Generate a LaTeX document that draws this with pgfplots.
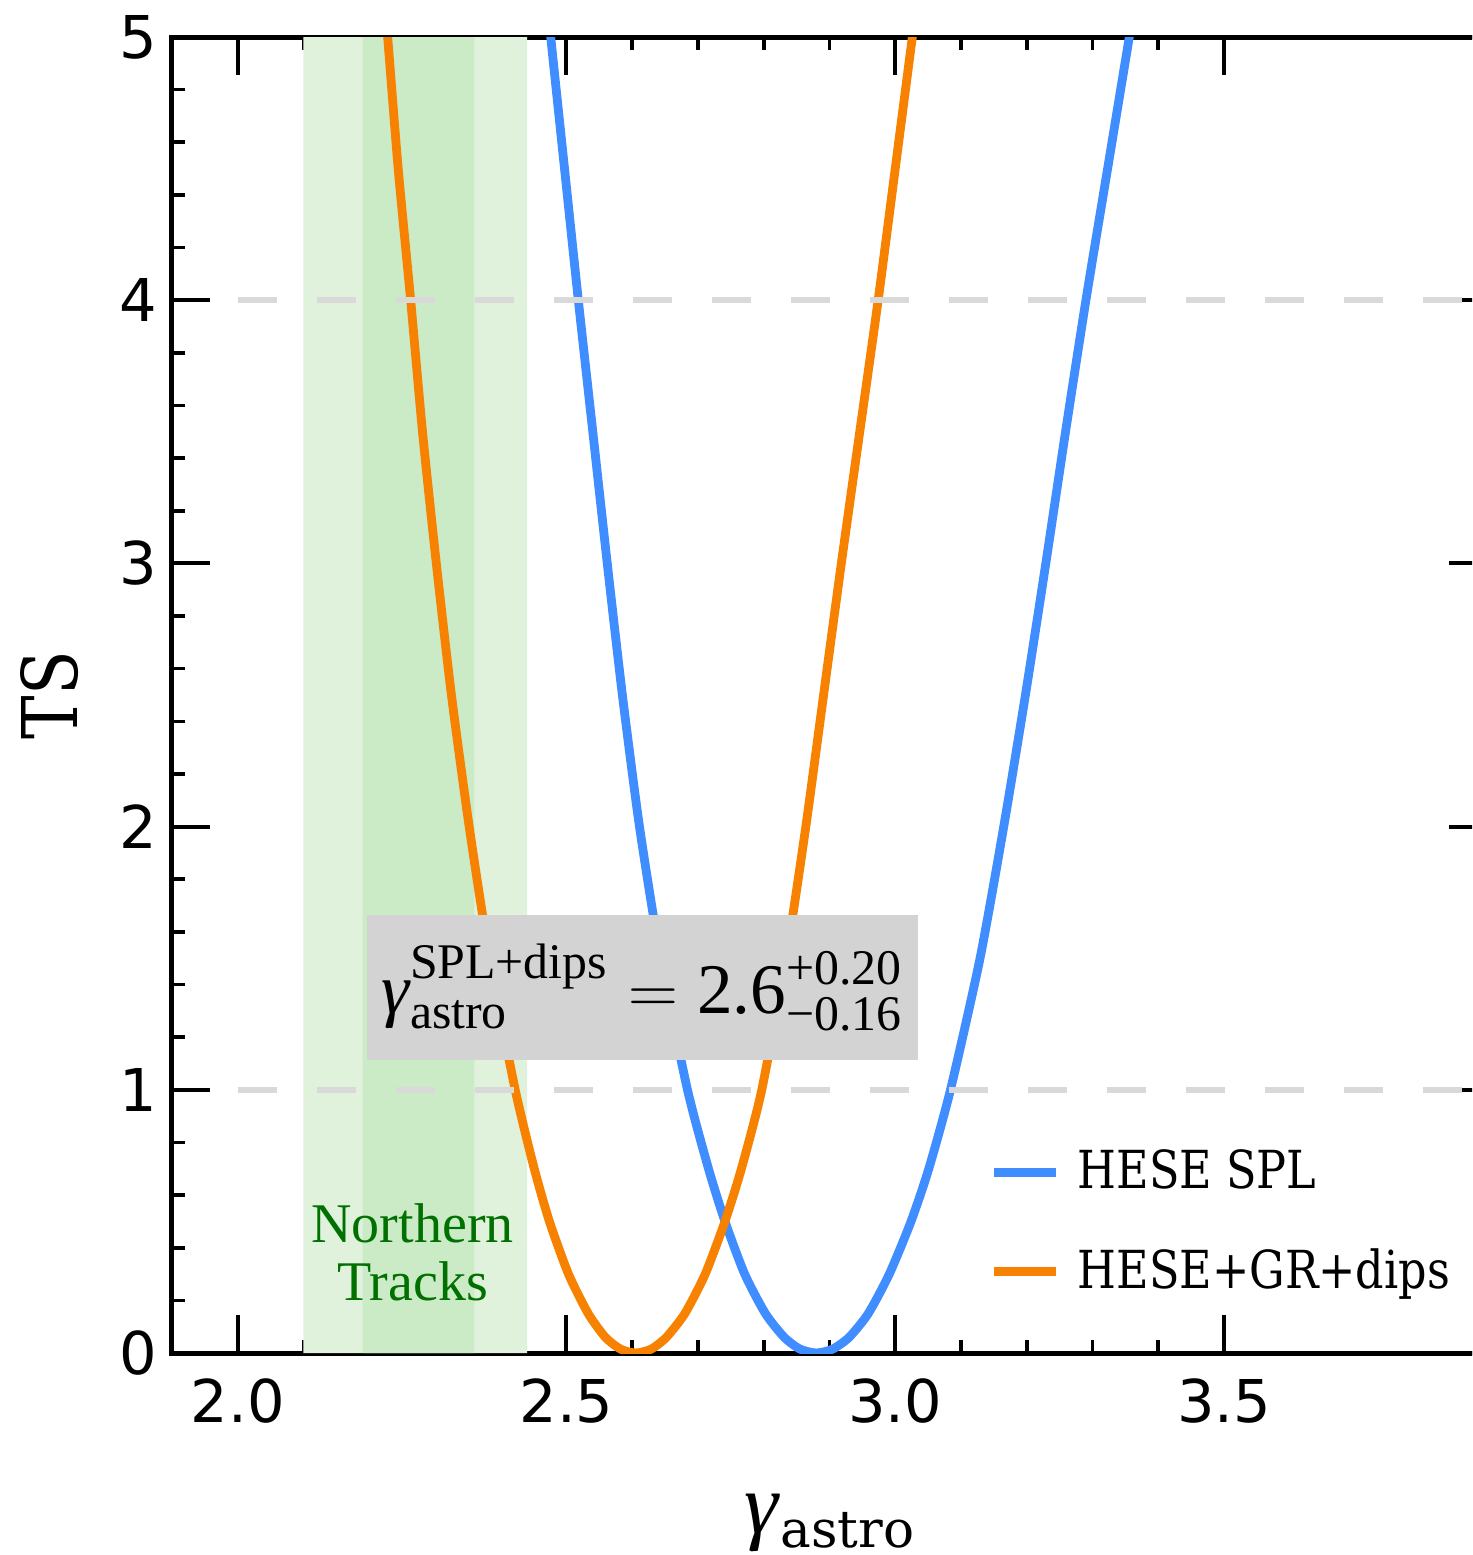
\documentclass[border=0pt]{standalone}
\usepackage{amsmath}
\usepackage{fontspec}
\setmainfont{Liberation Serif}
\newfontfamily\tickfont{DejaVu Sans}
\newfontfamily\dvserif{DejaVu Serif}
\newfontfamily\dvcond[FakeStretch=0.85]{DejaVu Serif}
\usepackage{pgfplots}
\pgfplotsset{compat=1.18}
\definecolor{cblue}{RGB}{64,141,255}
\definecolor{corange}{RGB}{247,129,0}
\definecolor{lgreen}{RGB}{224,242,220}
\definecolor{dgreen}{RGB}{203,234,198}
\definecolor{tgreen}{RGB}{0,112,0}
\definecolor{boxgray}{RGB}{211,211,211}
\definecolor{gridgray}{RGB}{217,217,217}
\begin{document}
\begin{tikzpicture}
\useasboundingbox (-43pt,-50.5pt) rectangle (325pt,338.25pt);
\clip (-43pt,-50.5pt) rectangle (325pt,338.25pt);
\begin{axis}[
  at={(0pt,0pt)}, anchor=south west,
  scale only axis, width=328.75pt, height=329pt,
  xmin=1.9, xmax=3.9, ymin=0, ymax=5,
  xtick={2.0,2.5,3.0,3.5}, ytick={0,1,2,3,4,5},
  minor x tick num=4, minor y tick num=4,
  tick align=inside, tick pos=both, ticklabel pos=left,
  major tick length=9.5pt, minor tick length=3.3pt,
  every major tick/.append style={line width=1pt, black},
  every minor tick/.append style={line width=0.9pt, black},
  axis line style={line width=1.25pt},
  ticklabel style={font=\tickfont\fontsize{14.75}{16}\selectfont, inner sep=0pt},
  /pgf/number format/assume math mode=true,
  xticklabel style={yshift=-6.25pt, /pgf/number format/.cd, fixed, fixed zerofill, precision=1},
  yticklabel style={xshift=-3.5pt},
  xlabel={{\fontsize{21.5}{24}\selectfont\textit{γ}}\raisebox{-3.5pt}{\dvserif\fontsize{12.9}{14}\selectfont astro}},
  xlabel style={at={(axis description cs:0.5,-0.1375)}, anchor=base, inner sep=0pt},
  ylabel={\dvcond\fontsize{19.2}{22}\selectfont TS},
  ylabel style={at={(axis description cs:-0.0715,0.5)}, anchor=base, inner sep=0pt},
  legend style={at={(axis description cs:0.622,0.1545)}, anchor=north west, draw=none, fill=none,
    inner sep=0pt, outer sep=0pt, row sep=13.6pt, column sep=4.25pt,
    font=\dvcond\fontsize{13.1}{14}\selectfont, nodes={inner sep=0pt}},
  legend cell align=left,
  legend image code/.code={\draw[#1] (0pt,0pt) -- (15.5pt,0pt);},
]
% Northern tracks bands
\addplot[draw=none, fill=lgreen, forget plot] coordinates {(2.10,0) (2.44,0) (2.44,5) (2.10,5)} \closedcycle;
\addplot[draw=none, fill=dgreen, forget plot] coordinates {(2.19,0) (2.36,0) (2.36,5) (2.19,5)} \closedcycle;
% HESE SPL
\addplot[cblue, line width=2.2pt, smooth, tension=0.4] coordinates {
(2.464,5.3) (2.476,5.0) (2.497,4.5) (2.518,4.0) (2.540,3.5) (2.562,3.0) (2.585,2.5) (2.611,2.0) (2.643,1.5) (2.684,1.0) (2.716,0.7) (2.741,0.5) (2.771,0.3) (2.8025,0.15) (2.831,0.06) (2.855,0.015) (2.880,0) (2.905,0.015) (2.930,0.06) (2.959,0.15) (2.991,0.3) (3.024,0.5) (3.051,0.7) (3.084,1.0) (3.129,1.5) (3.165,2.0) (3.198,2.5) (3.229,3.0) (3.259,3.5) (3.290,4.0) (3.323,4.5) (3.356,5.0) (3.376,5.3)};
\addlegendentry{HESE SPL}
% HESE+GR+dips
\addplot[corange, line width=2.2pt, smooth, tension=0.4] coordinates {
(2.218,5.3) (2.228,5.0) (2.244,4.5) (2.263,4.0) (2.281,3.5) (2.302,3.0) (2.325,2.5) (2.352,2.0) (2.383,1.5) (2.422,1.0) (2.451,0.7) (2.474,0.5) (2.503,0.3) (2.533,0.15) (2.559,0.06) (2.582,0.015) (2.605,0) (2.629,0.015) (2.652,0.06) (2.680,0.15) (2.711,0.3) (2.741,0.5) (2.766,0.7) (2.797,1.0) (2.834,1.5) (2.864,2.0) (2.891,2.5) (2.918,3.0) (2.946,3.5) (2.974,4.0) (3.000,4.5) (3.026,5.0) (3.042,5.3)};
\addlegendentry{HESE+GR+dips}
% dashed guide lines
\addplot[gridgray, line width=1.5pt, dash pattern=on 9.75pt off 10pt, forget plot] coordinates {(2.0,1) (3.9,1)};
\addplot[gridgray, line width=1.5pt, dash pattern=on 9.75pt off 10pt, forget plot] coordinates {(2.0,4) (3.9,4)};
% annotation box
\node[fill=boxgray, minimum width=137.75pt, minimum height=36.25pt, inner sep=0pt]
  at (axis cs:2.616,1.389)
  {\fontsize{17.8}{20}\selectfont $\text{\itshape γ}^{\text{SPL+dips}}_{\text{astro}} = \text{2.6}^{\text{+0.20}}_{\text{−0.16}}$};
\node[text=tgreen, align=center, inner sep=0pt, font=\fontsize{14}{14.5}\selectfont]
  at (axis cs:2.266,0.384) {Northern\\Tracks};
\end{axis}
\end{tikzpicture}
\end{document}
